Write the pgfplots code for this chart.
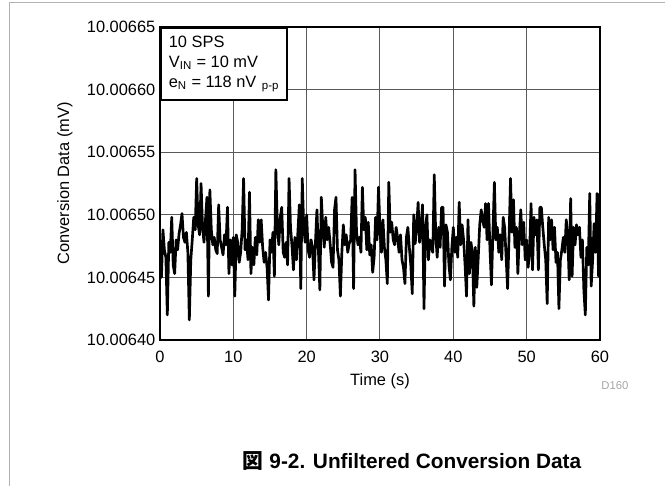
\documentclass[border=0pt]{standalone}
\usepackage{fontspec}
\setmainfont{Liberation Sans}
\newfontfamily\cjk{Noto Sans CJK JP}
\usepackage{pgfplots}
\usepackage{pgfplotstable}
\pgfplotsset{compat=1.18}
% y = conversion data minus 10.00640 mV, in nV
\pgfplotstableread{
t y
0.0 80
0.2 50
0.4 88
0.6 72
0.8 66
1.0 20
1.2 78
1.4 70
1.6 98
1.8 60
2.0 53
2.2 80
2.4 72
2.6 85
2.8 92
3.0 101
3.2 82
3.4 78
3.6 86
3.8 70
4.0 16
4.2 64
4.4 80
4.6 98
4.8 88
5.0 129
5.2 92
5.4 84
5.6 125
5.8 90
6.0 78
6.2 96
6.4 114
6.6 35
6.8 120
7.0 88
7.2 76
7.4 82
7.6 72
7.8 69
8.0 108
8.2 80
8.4 74
8.6 68
8.8 84
9.0 76
9.2 106
9.4 53
9.6 80
9.8 60
10.0 82
10.2 35
10.4 84
10.6 78
10.8 62
11.0 70
11.2 88
11.4 129
11.6 72
11.8 80
12.0 64
12.2 118
12.4 53
12.6 74
12.8 60
13.0 82
13.2 68
13.4 96
13.6 78
13.8 96
14.0 74
14.2 62
14.4 70
14.6 58
14.8 32
15.0 80
15.2 70
15.4 86
15.6 51
15.8 136
16.0 92
16.2 76
16.4 98
16.6 106
16.8 70
17.0 66
17.2 78
17.4 60
17.6 129
17.8 90
18.0 75
18.2 56
18.4 82
18.6 64
18.8 86
19.0 108
19.2 41
19.4 129
19.6 90
19.8 78
20.0 100
20.2 72
20.4 66
20.6 80
20.8 74
21.0 48
21.2 78
21.4 104
21.6 72
21.8 40
22.0 114
22.2 90
22.4 74
22.6 98
22.8 80
23.0 90
23.2 77
23.4 62
23.6 58
23.8 104
24.0 114
24.2 72
24.4 64
24.6 35
24.8 70
25.0 92
25.2 76
25.4 84
25.6 70
25.8 77
26.0 80
26.2 114
26.4 41
26.6 136
26.8 86
27.0 76
27.2 82
27.4 70
27.6 122
27.8 88
28.0 98
28.2 72
28.4 94
28.6 68
28.8 76
29.0 54
29.2 66
29.4 98
29.6 80
29.8 122
30.0 88
30.2 70
30.4 96
30.6 74
30.8 64
31.0 45
31.2 126
31.4 86
31.6 94
31.8 80
32.0 76
32.2 90
32.4 82
32.6 70
32.8 84
33.0 64
33.2 58
33.4 45
33.6 82
33.8 90
34.0 74
34.2 60
34.4 37
34.6 100
34.8 77
35.0 90
35.2 110
35.4 78
35.6 90
35.8 108
36.0 25
36.2 90
36.4 100
36.6 64
36.8 80
37.0 74
37.2 70
37.4 132
37.6 84
37.8 66
38.0 90
38.2 74
38.4 106
38.6 106
38.8 43
39.0 92
39.2 86
39.4 60
39.6 48
39.8 74
40.0 90
40.2 70
40.4 82
40.6 66
40.8 110
41.0 76
41.2 92
41.4 80
41.6 60
41.8 35
42.0 96
42.2 53
42.4 78
42.6 70
42.8 27
43.0 74
43.2 42
43.4 66
43.6 92
43.8 104
44.0 96
44.2 90
44.4 109
44.6 80
44.8 109
45.0 72
45.2 44
45.4 86
45.6 126
45.8 80
46.0 90
46.2 70
46.4 84
46.6 64
46.8 98
47.0 90
47.2 66
47.4 41
47.6 82
47.8 129
48.0 86
48.2 112
48.4 74
48.6 90
48.8 53
49.0 84
49.2 104
49.4 76
49.6 94
49.8 64
50.0 80
50.2 58
50.4 70
50.6 109
50.8 56
51.0 98
51.2 84
51.4 96
51.6 56
51.8 106
52.0 106
52.2 90
52.4 76
52.6 64
52.8 29
53.0 98
53.2 80
53.4 96
53.6 72
53.8 90
54.0 62
54.2 70
54.4 25
54.6 64
54.8 72
55.0 82
55.2 70
55.4 96
55.6 84
55.8 48
56.0 113
56.2 51
56.4 90
56.6 76
56.8 92
57.0 84
57.2 90
57.4 66
57.6 80
57.8 40
58.0 20
58.2 74
58.4 60
58.6 117
58.8 43
59.0 64
59.2 93
59.4 70
59.6 117
59.8 51
60.0 117
}\noise
\begin{document}
\begin{tikzpicture}
\useasboundingbox (0,0) rectangle (498.75pt,364.5pt);
\draw[gray!60, line width=0.75pt] (7.1pt,0) -- (7.1pt,362.25pt) -- (498.75pt,362.25pt);
\begin{axis}[
  at={(120pt,109.5pt)}, anchor=south west,
  scale only axis, width=330pt, height=234.75pt,
  xmin=0, xmax=60, ymin=0, ymax=250,
  xtick={0,10,...,60},
  ytick={0,50,...,250},
  yticklabels={10.00640,10.00645,10.00650,10.00655,10.00660,10.00665},
  /pgf/number format/assume math mode=true,
  tick label style={font=\fontsize{12.3}{14}\selectfont},
  xticklabel style={yshift=-5pt},
  label style={font=\fontsize{12.3}{14}\selectfont},
  xlabel={Time (s)}, ylabel={Conversion Data (mV)},
  xlabel style={at={(axis description cs:0.5,-0.131)}, anchor=center},
  ylabel style={at={(axis description cs:-0.216,0.5)}, anchor=center},
  grid=major, major grid style={black!65, line width=0.75pt},
  axis line style={line width=1.5pt},
  tick style={draw=none},
  clip=true,
]
\addplot[black, line width=2pt, line join=round] table[x=t, y=y] {\noise};
\node[draw, line width=1.5pt, fill=white, anchor=north west, minimum width=94.5pt, minimum height=54pt, inner sep=2.5pt, align=left, font=\fontsize{12.3}{15}\selectfont] at (rel axis cs:0,1)
  {10 SPS\\V\textsubscript{IN} = 10 mV\\e\textsubscript{N} = 118 nV\,\,\textsubscript{p-p}};
\end{axis}
\node[text=black!35, font=\fontsize{8.5}{10}\selectfont] at (461.25pt,75pt) {D160};
\node[font=\fontsize{15.6}{18}\selectfont\bfseries] at (309pt,18.75pt) {{\cjk 図} 9-2. Unfiltered Conversion Data};
\end{tikzpicture}
\end{document}
